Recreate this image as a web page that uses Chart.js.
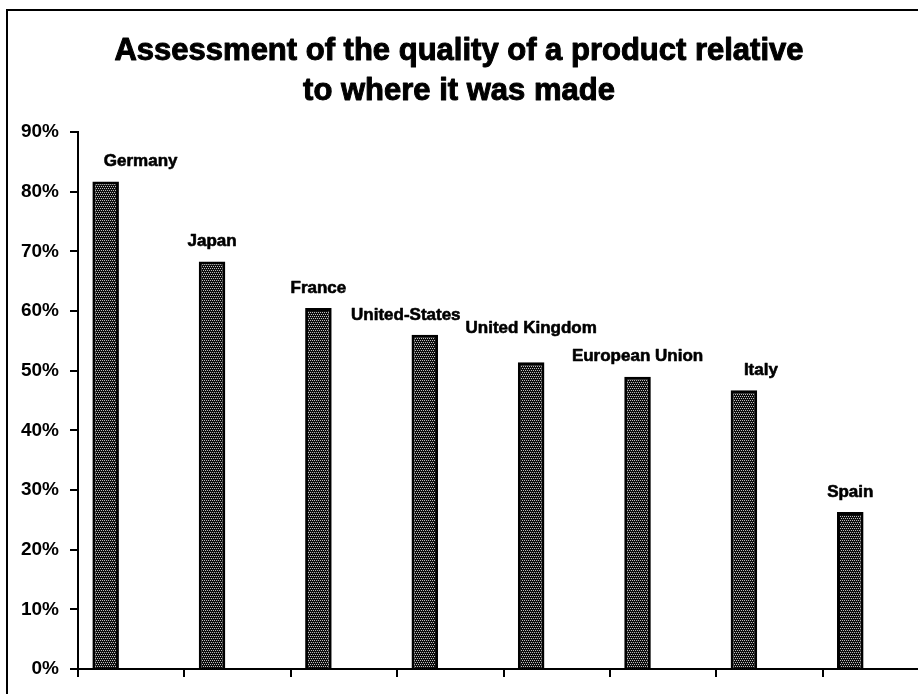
<!DOCTYPE html>
<html lang="en">
<head>
  <meta charset="UTF-8">
  <title>Assessment of the quality of a product relative to where it was made</title>
  <script src="https://cdn.jsdelivr.net/npm/chart.js@4.4.1/dist/chart.umd.min.js"></script>
  <style>
    html, body { margin: 0; padding: 0; background: #fff; overflow: hidden; }
    #quality-chart { display: block; }
  </style>
</head>
<body>
  <canvas id="quality-chart" width="935" height="694"></canvas>

  <script>
    // Share of respondents rating quality by country of manufacture (%)
    const countries = ['Germany', 'Japan', 'France', 'United-States', 'United Kingdom', 'European Union', 'Italy', 'Spain'];
    const qualityShare = [81.7, 68.3, 60.5, 56.0, 51.4, 49.0, 46.7, 26.3];
    const yTicks = [0, 10, 20, 30, 40, 50, 60, 70, 80, 90];
    const titleLines = ['Assessment of the quality of a product relative', 'to where it was made'];

    // hand-placed label shifts [dx, dy] so long names don't collide
    const labelNudge = [[35, 0], [0, 0], [0, 0], [-19, 0], [0, -14], [0, 0], [17, 0], [0, 0]];

    const FONT = '"Liberation Sans", Arial, Helvetica, sans-serif';

    const ctx = document.getElementById('quality-chart').getContext('2d');

    // dark halftone fill used for the bars
    function dotPattern(c) {
      const tile = document.createElement('canvas');
      tile.width = 4;
      tile.height = 4;
      const t = tile.getContext('2d');
      t.fillStyle = '#0d0d0d';
      t.fillRect(0, 0, 4, 4);
      t.fillStyle = '#bdbdbd';
      [[0, 0], [2, 0], [1, 2], [3, 2]].forEach(([x, y]) => t.fillRect(x, y, 1, 1));
      return c.createPattern(tile, 'repeat');
    }

    // bold text with a thin outline to give it some extra weight
    function heavyText(c, str, x, y, w) {
      c.lineWidth = w;
      c.strokeText(str, x, y);
      c.fillText(str, x, y);
    }

    // outer frame + two-line heading
    const frameAndTitle = {
      id: 'frameAndTitle',
      beforeDraw(chart) {
        const c = chart.ctx;
        c.save();
        c.fillStyle = '#fff';
        c.fillRect(0, 0, chart.width, chart.height);
        c.strokeStyle = '#000';
        c.lineWidth = 2;
        c.strokeRect(7, 10, 926, 720);
        c.fillStyle = '#000';
        c.font = 'bold 31px ' + FONT;
        c.textAlign = 'center';
        c.textBaseline = 'alphabetic';
        c.lineJoin = 'round';
        heavyText(c, titleLines[0], 459, 60, 1);
        heavyText(c, titleLines[1], 459, 100, 1);
        c.restore();
      }
    };

    // country names above each bar
    const barLabels = {
      id: 'barLabels',
      afterDatasetsDraw(chart) {
        const c = chart.ctx;
        const meta = chart.getDatasetMeta(0);
        c.save();
        c.fillStyle = '#000';
        c.strokeStyle = '#000';
        c.lineJoin = 'round';
        c.font = 'bold 17px ' + FONT;
        c.textAlign = 'center';
        c.textBaseline = 'middle';
        meta.data.forEach((bar, i) => {
          const [dx, dy] = labelNudge[i];
          heavyText(c, countries[i], bar.x + dx, bar.y - 20 + dy, 0.6);
        });
        c.restore();
      }
    };

    new Chart(ctx, {
      type: 'bar',
      data: {
        labels: countries,
        datasets: [
          {
            label: 'Quality',
            data: qualityShare,
            backgroundColor: dotPattern(ctx),
            borderColor: '#000',
            borderWidth: 3,
            categoryPercentage: 0.96,
            barPercentage: 0.52
          },
          {
            // empty second slot keeps each bar on the left half of its category
            label: 'spacer',
            data: countries.map(() => null),
            categoryPercentage: 0.96,
            barPercentage: 0.52
          }
        ]
      },
      plugins: [frameAndTitle, barLabels],
      options: {
        responsive: false,
        animation: false,
        devicePixelRatio: 1,
        layout: { padding: { left: 0, top: 132, right: 6, bottom: 17 } },
        plugins: {
          legend: { display: false },
          title: { display: false },
          tooltip: { enabled: false }
        },
        scales: {
          x: {
            type: 'category',
            offset: true,
            ticks: { display: false },
            grid: { offset: true, drawOnChartArea: false, drawTicks: true, tickLength: 8, color: '#000', lineWidth: 2 },
            border: { color: '#000', width: 2 },
            afterFit: s => { s.height = 8; }
          },
          y: {
            min: 0,
            max: 90,
            afterBuildTicks: s => { s.ticks = yTicks.map(v => ({ value: v })); },
            ticks: {
              padding: 11,
              color: '#000',
              font: { family: FONT, size: 19, weight: 'bold' },
              callback: v => v + '%'
            },
            grid: { drawOnChartArea: false, drawTicks: true, tickLength: 8, color: '#000', lineWidth: 2 },
            border: { color: '#000', width: 2 },
            afterFit: s => { s.width = 78; }
          }
        }
      }
    });
  </script>
</body>
</html>
